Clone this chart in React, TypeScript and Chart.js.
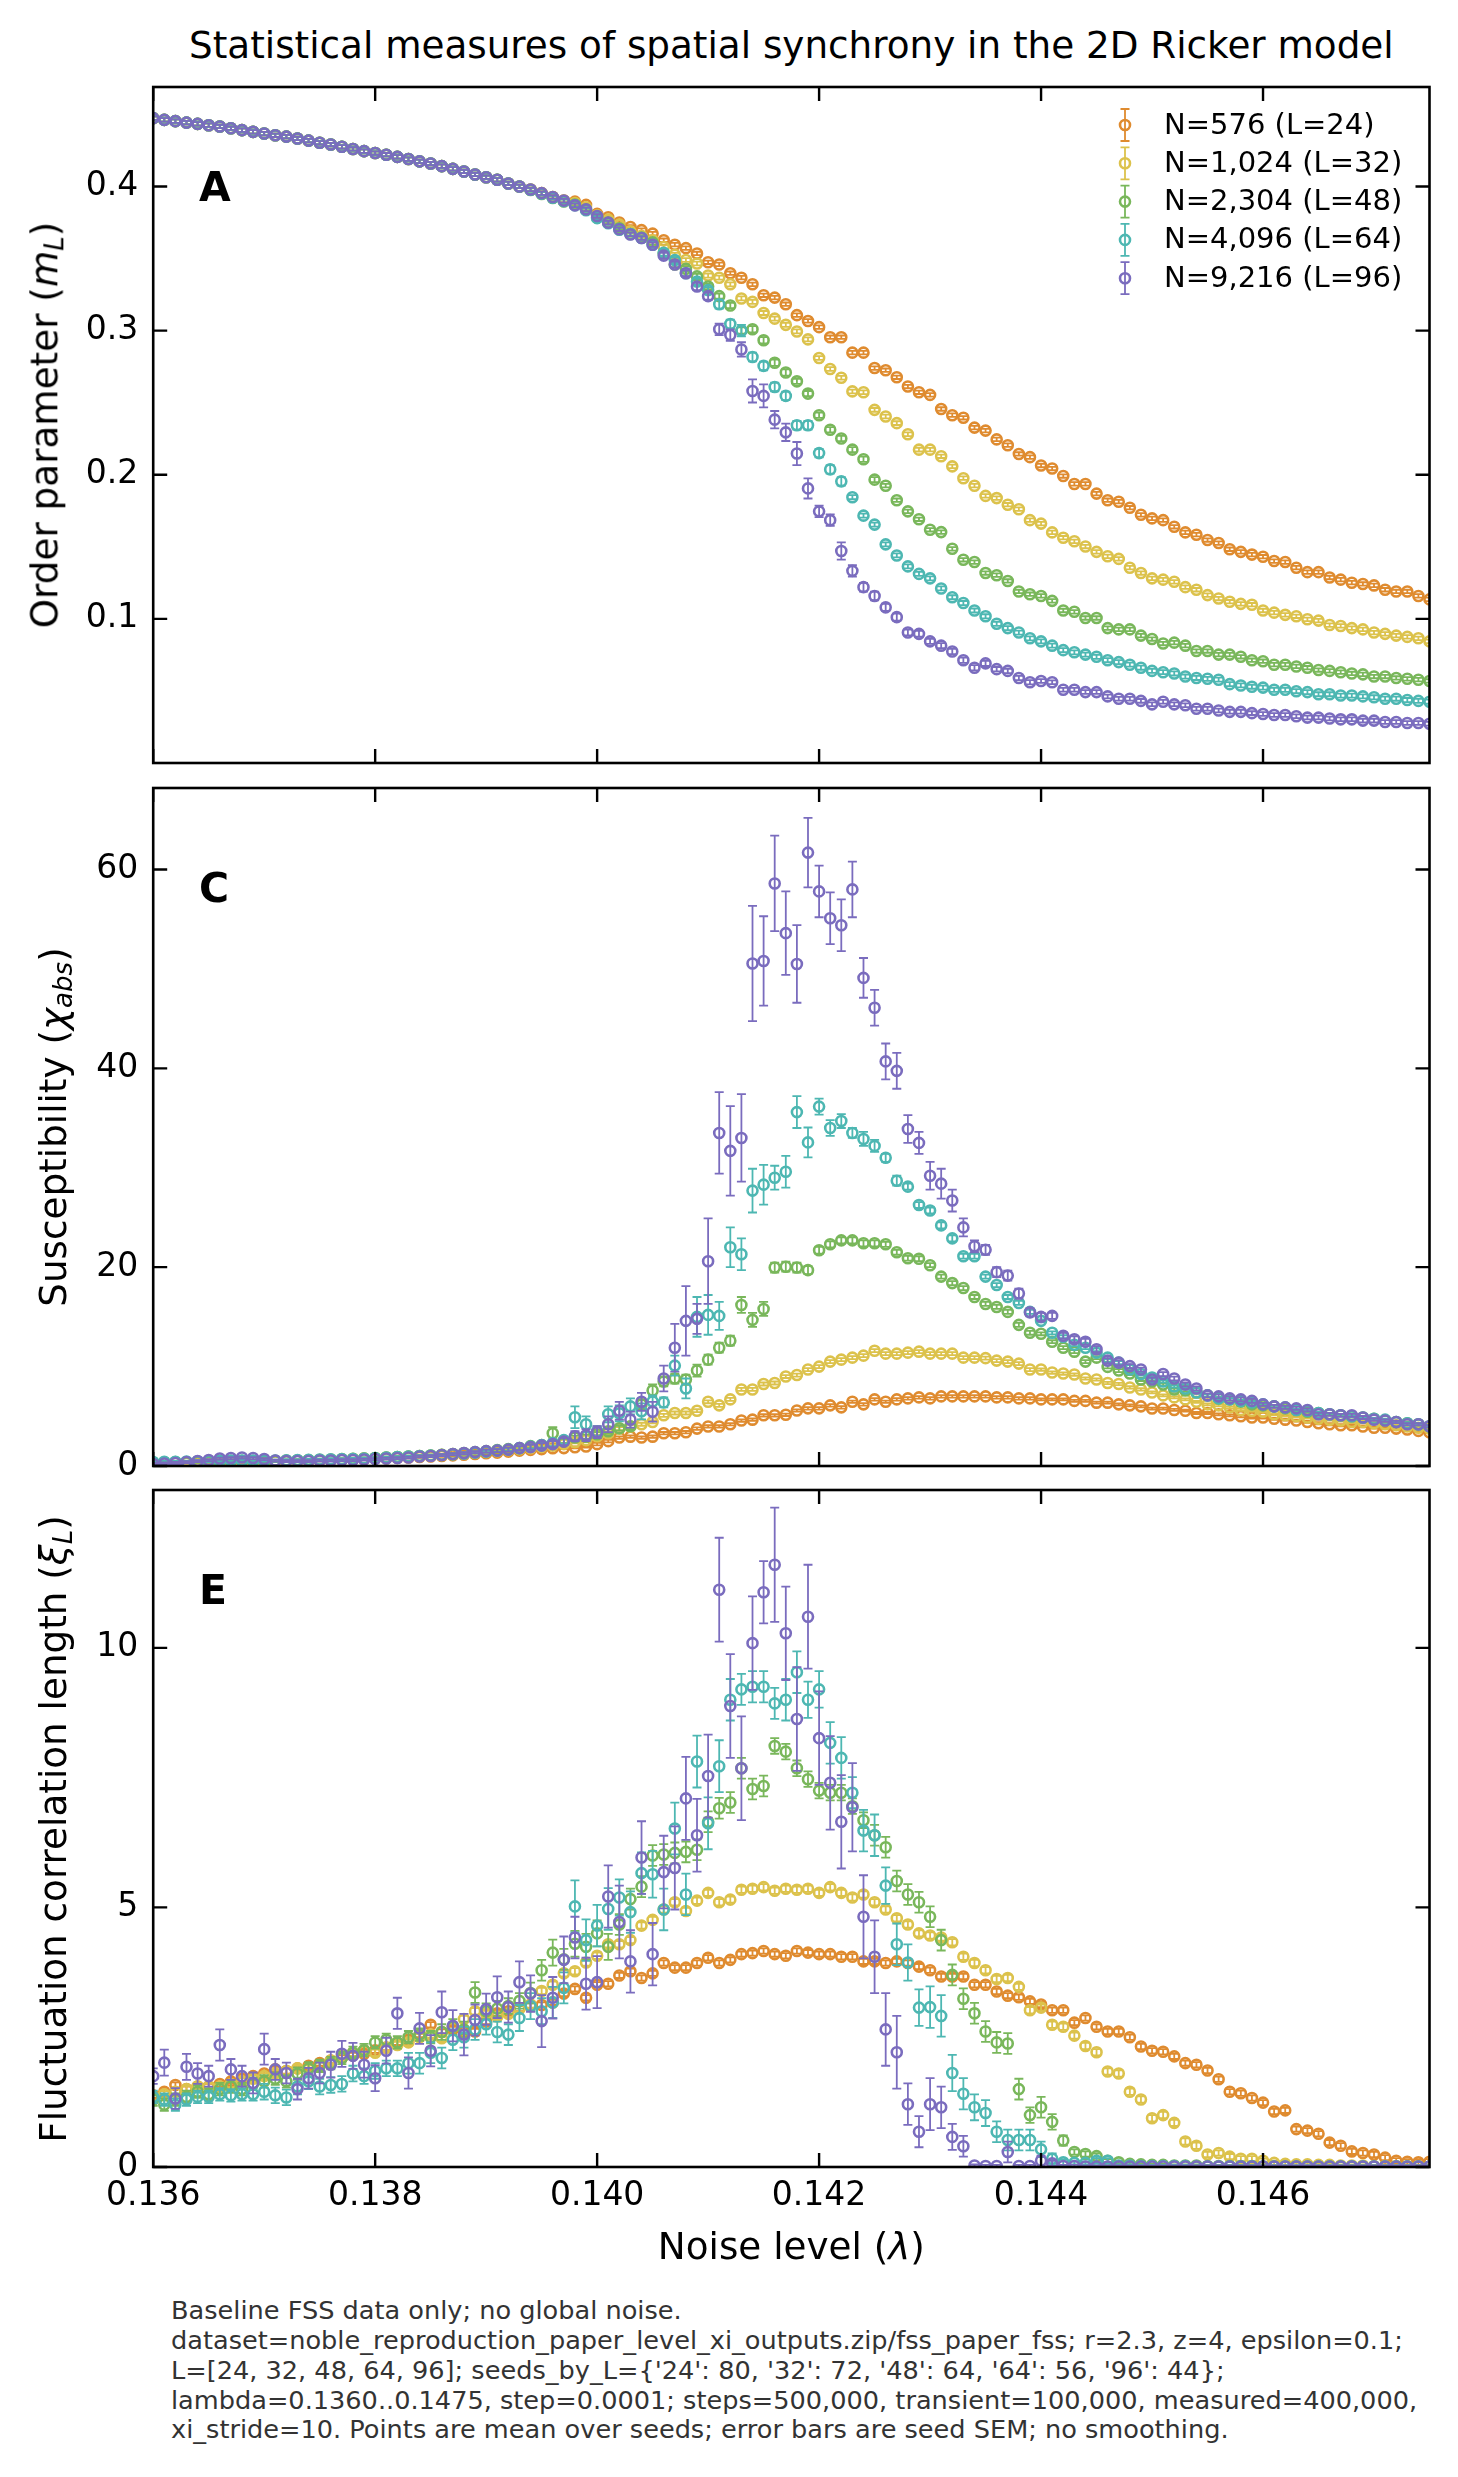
import React, { useEffect, useRef } from 'react';
import { Chart, registerables } from 'chart.js';

Chart.register(...registerables);

// ---------------- data ----------------
const LAMBDA = [
  0.1360, 0.1361, 0.1362, 0.1363, 0.1364, 0.1365, 0.1366, 0.1367, 0.1368, 0.1369,
  0.1370, 0.1371, 0.1372, 0.1373, 0.1374, 0.1375, 0.1376, 0.1377, 0.1378, 0.1379,
  0.1380, 0.1381, 0.1382, 0.1383, 0.1384, 0.1385, 0.1386, 0.1387, 0.1388, 0.1389,
  0.1390, 0.1391, 0.1392, 0.1393, 0.1394, 0.1395, 0.1396, 0.1397, 0.1398, 0.1399,
  0.1400, 0.1401, 0.1402, 0.1403, 0.1404, 0.1405, 0.1406, 0.1407, 0.1408, 0.1409,
  0.1410, 0.1411, 0.1412, 0.1413, 0.1414, 0.1415, 0.1416, 0.1417, 0.1418, 0.1419,
  0.1420, 0.1421, 0.1422, 0.1423, 0.1424, 0.1425, 0.1426, 0.1427, 0.1428, 0.1429,
  0.1430, 0.1431, 0.1432, 0.1433, 0.1434, 0.1435, 0.1436, 0.1437, 0.1438, 0.1439,
  0.1440, 0.1441, 0.1442, 0.1443, 0.1444, 0.1445, 0.1446, 0.1447, 0.1448, 0.1449,
  0.1450, 0.1451, 0.1452, 0.1453, 0.1454, 0.1455, 0.1456, 0.1457, 0.1458, 0.1459,
  0.1460, 0.1461, 0.1462, 0.1463, 0.1464, 0.1465, 0.1466, 0.1467, 0.1468, 0.1469,
  0.1470, 0.1471, 0.1472, 0.1473, 0.1474, 0.1475,
];

const X_TICKS = [0.136, 0.138, 0.14, 0.142, 0.144, 0.146];
const X_TICK_LABELS = ['0.136', '0.138', '0.140', '0.142', '0.144', '0.146'];
const A_Y_TICKS = [0.1, 0.2, 0.3, 0.4];
const A_Y_LABELS = ['0.1', '0.2', '0.3', '0.4'];
const C_Y_TICKS = [0, 20, 40, 60];
const C_Y_LABELS = ['0', '20', '40', '60'];
const E_Y_TICKS = [0, 5, 10];
const E_Y_LABELS = ['0', '5', '10'];

const SERIES_LABELS = ['N=576 (L=24)', 'N=1,024 (L=32)', 'N=2,304 (L=48)', 'N=4,096 (L=64)', 'N=9,216 (L=96)'];
const COLORS = ['#DF8B2F', '#DCC24C', '#79B75B', '#4DB7B2', '#7A6CBE'];

// Panel A: order parameter m_L
const M_L24 = [
  0.4474, 0.4462, 0.4453, 0.4443, 0.4434, 0.4425, 0.4416, 0.4404, 0.4391, 0.4379,
  0.4367, 0.4355, 0.4346, 0.4333, 0.4318, 0.4303, 0.4291, 0.4275, 0.426, 0.4245,
  0.4232, 0.422, 0.4205, 0.419, 0.4174, 0.4159, 0.4141, 0.4122, 0.4104, 0.4083,
  0.4064, 0.4046, 0.4021, 0.40, 0.3979, 0.3954, 0.3927, 0.3902, 0.3895, 0.3872,
  0.381, 0.3786, 0.375, 0.3719, 0.3697, 0.3673, 0.3627, 0.3596, 0.3572, 0.3535,
  0.3474, 0.3459, 0.3398, 0.3367, 0.3321, 0.3245, 0.3229, 0.3183, 0.3107, 0.3067,
  0.3024, 0.2954, 0.2954, 0.2847, 0.2847, 0.274, 0.2725, 0.2676, 0.2612, 0.2572,
  0.2554, 0.2456, 0.2413, 0.2395, 0.2327, 0.2306, 0.2245, 0.2205, 0.2144, 0.2122,
  0.2064, 0.2043, 0.1991, 0.1936, 0.1936, 0.1869, 0.1823, 0.1813, 0.1771, 0.1722,
  0.1697, 0.1685, 0.1639, 0.16, 0.1584, 0.1547, 0.1526, 0.1483, 0.1465, 0.1446,
  0.1431, 0.1401, 0.1394, 0.1355, 0.1324, 0.1324, 0.1287, 0.1272, 0.1251, 0.1242,
  0.1232, 0.1202, 0.119, 0.119, 0.1159, 0.1135,
];
const M_L32 = [
  0.4474, 0.4462, 0.4453, 0.4443, 0.4434, 0.4425, 0.4416, 0.4404, 0.4391, 0.4379,
  0.4367, 0.4355, 0.4346, 0.4333, 0.4318, 0.4303, 0.4291, 0.4275, 0.426, 0.4245,
  0.4232, 0.422, 0.4205, 0.419, 0.4174, 0.4159, 0.4141, 0.4122, 0.4104, 0.4083,
  0.4064, 0.4046, 0.4021, 0.40, 0.3979, 0.3954, 0.3927, 0.3902, 0.3885, 0.3855,
  0.380, 0.377, 0.3735, 0.3688, 0.3657, 0.3627, 0.358, 0.3526, 0.349, 0.3465,
  0.3382, 0.3367, 0.3321, 0.3223, 0.3199, 0.3122, 0.3083, 0.304, 0.2994, 0.2939,
  0.281, 0.2734, 0.2673, 0.2578, 0.2572, 0.245, 0.2404, 0.2358, 0.2281, 0.2174,
  0.2174, 0.2128, 0.2058, 0.1976, 0.1924, 0.1853, 0.1838, 0.1792, 0.1761, 0.1685,
  0.1661, 0.16, 0.1563, 0.1538, 0.1502, 0.1465, 0.1434, 0.1416, 0.1355, 0.1318,
  0.1281, 0.1272, 0.1257, 0.122, 0.1202, 0.1165, 0.1141, 0.1119, 0.1104, 0.1098,
  0.1058, 0.1043, 0.1028, 0.1018, 0.0997, 0.0988, 0.0957, 0.0951, 0.0936, 0.0927,
  0.0905, 0.0896, 0.0884, 0.0875, 0.0865, 0.0844,
];
const M_L48 = [
  0.4474, 0.4462, 0.4453, 0.4443, 0.4434, 0.4425, 0.4416, 0.4404, 0.4391, 0.4379,
  0.4367, 0.4355, 0.4346, 0.4333, 0.4318, 0.4303, 0.4291, 0.4275, 0.426, 0.4245,
  0.4232, 0.422, 0.4205, 0.419, 0.4174, 0.4159, 0.4141, 0.4122, 0.4104, 0.4083,
  0.4064, 0.4046, 0.4021, 0.40, 0.3975, 0.3948, 0.392, 0.3896, 0.3875, 0.384,
  0.3785, 0.375, 0.371, 0.367, 0.3645, 0.3612, 0.3535, 0.3459, 0.3428, 0.3376,
  0.3306, 0.3239, 0.3174, 0.30, 0.3009, 0.2933, 0.2777, 0.2709, 0.2648, 0.2563,
  0.2413, 0.2312, 0.2251, 0.2174, 0.2107, 0.1966, 0.1924, 0.1823, 0.1746, 0.1691,
  0.1618, 0.1602, 0.1486, 0.141, 0.1394, 0.1318, 0.1303, 0.1263, 0.119, 0.1171,
  0.1159, 0.1125, 0.1058, 0.1049, 0.1006, 0.1006, 0.0936, 0.0927, 0.0927, 0.0884,
  0.086, 0.0829, 0.0835, 0.0814, 0.0777, 0.0777, 0.0752, 0.0752, 0.0737, 0.0713,
  0.0706, 0.0682, 0.0682, 0.067, 0.0661, 0.0645, 0.0639, 0.063, 0.0621, 0.0615,
  0.06, 0.06, 0.059, 0.0584, 0.0578, 0.0569,
];
const M_L64 = [
  0.4474, 0.4462, 0.4453, 0.4443, 0.4434, 0.4425, 0.4416, 0.4404, 0.4391, 0.4379,
  0.4367, 0.4355, 0.4346, 0.4333, 0.4318, 0.4303, 0.4291, 0.4275, 0.426, 0.4245,
  0.4232, 0.422, 0.4205, 0.419, 0.4174, 0.4159, 0.4141, 0.4122, 0.4104, 0.4083,
  0.4064, 0.4046, 0.4021, 0.40, 0.3977, 0.395, 0.3922, 0.3898, 0.387, 0.3835,
  0.378, 0.3745, 0.370, 0.367, 0.3642, 0.3596, 0.354, 0.3489, 0.3398, 0.334,
  0.3281, 0.3183, 0.3046, 0.30, 0.2817, 0.2755, 0.2609, 0.2547, 0.2343, 0.2343,
  0.215, 0.2037, 0.1954, 0.1844, 0.1716, 0.1654, 0.1517, 0.144, 0.1364, 0.1312,
  0.1281, 0.1211, 0.115, 0.111, 0.1058, 0.1018, 0.0966, 0.0936, 0.0905, 0.0865,
  0.0844, 0.0814, 0.0783, 0.0768, 0.0752, 0.0737, 0.0713, 0.07, 0.0682, 0.0661,
  0.0639, 0.063, 0.0621, 0.06, 0.059, 0.0584, 0.0578, 0.0547, 0.0538, 0.0529,
  0.0523, 0.0508, 0.0508, 0.0498, 0.0492, 0.0477, 0.0477, 0.0468, 0.0468, 0.0462,
  0.0456, 0.0446, 0.0446, 0.0437, 0.0431, 0.0425,
];
const M_L96 = [
  0.4474, 0.4462, 0.4453, 0.4443, 0.4434, 0.4425, 0.4416, 0.4404, 0.4391, 0.4379,
  0.4367, 0.4355, 0.4346, 0.4333, 0.4318, 0.4303, 0.4291, 0.4275, 0.426, 0.4245,
  0.4232, 0.422, 0.4205, 0.419, 0.4174, 0.4159, 0.4141, 0.4122, 0.4104, 0.4083,
  0.4064, 0.4046, 0.4021, 0.40, 0.3979, 0.3954, 0.3927, 0.3902, 0.3869, 0.3841,
  0.3795, 0.3749, 0.3703, 0.3667, 0.3642, 0.3596, 0.352, 0.3459, 0.3398, 0.3306,
  0.3239, 0.3009, 0.2969, 0.2869, 0.2581, 0.2547, 0.2382, 0.2294, 0.2147, 0.1905,
  0.1746, 0.1685, 0.1471, 0.1333, 0.122, 0.1159, 0.108, 0.1012, 0.0905, 0.0896,
  0.0844, 0.0814, 0.0774, 0.0713, 0.0661, 0.0691, 0.0651, 0.0639, 0.059, 0.056,
  0.0569, 0.056, 0.0508, 0.0508, 0.0492, 0.0492, 0.0462, 0.0446, 0.0446, 0.0431,
  0.0407, 0.0425, 0.0407, 0.0401, 0.0376, 0.0376, 0.0364, 0.0355, 0.0355, 0.0346,
  0.034, 0.0333, 0.0333, 0.0324, 0.0315, 0.0315, 0.0309, 0.0303, 0.0303, 0.0294,
  0.0294, 0.0284, 0.0284, 0.0278, 0.0278, 0.0272,
];

const M_ERR_L24 = [
  0.0012, 0.0012, 0.0012, 0.0012, 0.0012, 0.0012, 0.0012, 0.0012, 0.0012, 0.0012,
  0.0012, 0.0012, 0.0012, 0.0012, 0.0012, 0.0012, 0.0012, 0.0012, 0.0012, 0.0012,
  0.0012, 0.0012, 0.0012, 0.0012, 0.0012, 0.0012, 0.0012, 0.0012, 0.0012, 0.0012,
  0.0012, 0.0012, 0.0012, 0.0012, 0.0012, 0.0012, 0.0012, 0.0012, 0.0012, 0.0012,
  0.0012, 0.0012, 0.0012, 0.0012, 0.0012, 0.0012, 0.0012, 0.0012, 0.0012, 0.0012,
  0.0012, 0.0012, 0.0012, 0.0012, 0.0012, 0.0012, 0.0012, 0.0012, 0.0012, 0.0012,
  0.0012, 0.0012, 0.0012, 0.0012, 0.0012, 0.0012, 0.0012, 0.0012, 0.0012, 0.0012,
  0.0012, 0.0012, 0.0012, 0.0012, 0.0012, 0.0012, 0.0012, 0.0012, 0.0012, 0.0012,
  0.0012, 0.0012, 0.0012, 0.0012, 0.0012, 0.0012, 0.0012, 0.0012, 0.0012, 0.0012,
  0.0012, 0.0012, 0.0012, 0.0012, 0.0012, 0.0012, 0.0012, 0.0012, 0.0012, 0.0012,
  0.0012, 0.0012, 0.0012, 0.0012, 0.0012, 0.0012, 0.0012, 0.0012, 0.0012, 0.0012,
  0.0012, 0.0012, 0.0012, 0.0012, 0.0012, 0.0012,
];
const M_ERR_L32 = [
  0.0012, 0.0012, 0.0012, 0.0012, 0.0012, 0.0012, 0.0012, 0.0012, 0.0012, 0.0012,
  0.0012, 0.0012, 0.0012, 0.0012, 0.0012, 0.0012, 0.0012, 0.0012, 0.0012, 0.0012,
  0.0012, 0.0012, 0.0012, 0.0012, 0.0012, 0.0012, 0.0012, 0.0012, 0.0012, 0.0012,
  0.0012, 0.0012, 0.0012, 0.0012, 0.0012, 0.0012, 0.0012, 0.0012, 0.0012, 0.0012,
  0.0012, 0.0012, 0.0012, 0.0012, 0.0012, 0.0013, 0.0013, 0.0013, 0.0013, 0.0013,
  0.0014, 0.0014, 0.0014, 0.0014, 0.0014, 0.0014, 0.0014, 0.0014, 0.0014, 0.0014,
  0.0013, 0.0013, 0.0013, 0.0013, 0.0013, 0.0013, 0.0013, 0.0013, 0.0013, 0.0013,
  0.0012, 0.0012, 0.0012, 0.0012, 0.0012, 0.0012, 0.0012, 0.0012, 0.0012, 0.0012,
  0.0012, 0.0012, 0.0012, 0.0012, 0.0012, 0.0012, 0.0012, 0.0012, 0.0012, 0.0012,
  0.0012, 0.0012, 0.0012, 0.0012, 0.0012, 0.0012, 0.0012, 0.0012, 0.0012, 0.0012,
  0.0012, 0.0012, 0.0012, 0.0012, 0.0012, 0.0012, 0.0012, 0.0012, 0.0012, 0.0012,
  0.0012, 0.0012, 0.0012, 0.0012, 0.0012, 0.0012,
];
const M_ERR_L48 = [
  0.0012, 0.0012, 0.0012, 0.0012, 0.0012, 0.0012, 0.0012, 0.0012, 0.0012, 0.0012,
  0.0012, 0.0012, 0.0012, 0.0012, 0.0012, 0.0012, 0.0012, 0.0012, 0.0012, 0.0012,
  0.0012, 0.0012, 0.0012, 0.0012, 0.0012, 0.0012, 0.0012, 0.0012, 0.0012, 0.0012,
  0.0012, 0.0012, 0.0012, 0.0012, 0.0012, 0.0012, 0.0012, 0.0012, 0.0012, 0.0012,
  0.0012, 0.0012, 0.0012, 0.0012, 0.0012, 0.0018, 0.0018, 0.0018, 0.0018, 0.0018,
  0.0018, 0.0018, 0.0018, 0.0022, 0.0022, 0.0022, 0.0022, 0.0022, 0.0018, 0.0018,
  0.0018, 0.0018, 0.0018, 0.0018, 0.0018, 0.0018, 0.0012, 0.0012, 0.0012, 0.0012,
  0.0012, 0.0012, 0.0012, 0.0012, 0.0012, 0.0012, 0.0012, 0.0012, 0.0012, 0.0012,
  0.0012, 0.0012, 0.0012, 0.0012, 0.0012, 0.0012, 0.0012, 0.0012, 0.0012, 0.0012,
  0.0012, 0.0012, 0.0012, 0.0012, 0.0012, 0.0012, 0.0012, 0.0012, 0.0012, 0.0012,
  0.0012, 0.0012, 0.0012, 0.0012, 0.0012, 0.0012, 0.0012, 0.0012, 0.0012, 0.0012,
  0.0012, 0.0012, 0.0012, 0.0012, 0.0012, 0.0012,
];
const M_ERR_L64 = [
  0.0012, 0.0012, 0.0012, 0.0012, 0.0012, 0.0012, 0.0012, 0.0012, 0.0012, 0.0012,
  0.0012, 0.0012, 0.0012, 0.0012, 0.0012, 0.0012, 0.0012, 0.0012, 0.0012, 0.0012,
  0.0012, 0.0012, 0.0012, 0.0012, 0.0012, 0.0012, 0.0012, 0.0012, 0.0012, 0.0012,
  0.0012, 0.0012, 0.0012, 0.0012, 0.0012, 0.0012, 0.0012, 0.0012, 0.0012, 0.0012,
  0.0012, 0.0012, 0.0012, 0.0012, 0.0012, 0.002, 0.002, 0.002, 0.002, 0.002,
  0.002, 0.003, 0.003, 0.004, 0.003, 0.003, 0.003, 0.003, 0.003, 0.003,
  0.003, 0.003, 0.003, 0.0014, 0.0014, 0.0014, 0.0014, 0.0014, 0.0014, 0.0014,
  0.0014, 0.0014, 0.0014, 0.0014, 0.0014, 0.0014, 0.0014, 0.0014, 0.0014, 0.0014,
  0.0014, 0.0014, 0.0014, 0.0014, 0.0014, 0.0014, 0.0014, 0.0014, 0.0014, 0.0014,
  0.0014, 0.0014, 0.0014, 0.0014, 0.0014, 0.0014, 0.0014, 0.0014, 0.0014, 0.0014,
  0.0014, 0.0014, 0.0014, 0.0014, 0.0014, 0.0014, 0.0014, 0.0014, 0.0014, 0.0014,
  0.0014, 0.0014, 0.0014, 0.0014, 0.0014, 0.0014,
];
const M_ERR_L96 = [
  0.0012, 0.0012, 0.0012, 0.0012, 0.0012, 0.0012, 0.0012, 0.0012, 0.0012, 0.0012,
  0.0012, 0.0012, 0.0012, 0.0012, 0.0012, 0.0012, 0.0012, 0.0012, 0.0012, 0.0012,
  0.0012, 0.0012, 0.0012, 0.0012, 0.0012, 0.0012, 0.0012, 0.0012, 0.0012, 0.0012,
  0.0012, 0.0012, 0.0012, 0.0012, 0.0012, 0.0012, 0.0012, 0.0012, 0.0012, 0.0012,
  0.0012, 0.0012, 0.0012, 0.0012, 0.0012, 0.0015, 0.002, 0.002, 0.002, 0.0025,
  0.0025, 0.004, 0.004, 0.005, 0.008, 0.008, 0.006, 0.006, 0.008, 0.007,
  0.004, 0.004, 0.006, 0.004, 0.003, 0.003, 0.0025, 0.0025, 0.002, 0.002,
  0.0018, 0.0018, 0.0018, 0.0018, 0.0018, 0.0018, 0.0015, 0.0015, 0.0015, 0.0015,
  0.0013, 0.0013, 0.0013, 0.0013, 0.0013, 0.0013, 0.0013, 0.0013, 0.0013, 0.0013,
  0.0013, 0.0013, 0.0013, 0.0013, 0.0013, 0.0013, 0.0013, 0.0013, 0.0013, 0.0013,
  0.0013, 0.0013, 0.0013, 0.0013, 0.0013, 0.0013, 0.0013, 0.0013, 0.0013, 0.0013,
  0.0013, 0.0013, 0.0013, 0.0013, 0.0013, 0.0013,
];

// Panel C: susceptibility chi_abs
const CHI_L24 = [
  0.30, 0.30, 0.32, 0.33, 0.35, 0.37, 0.38, 0.40, 0.42, 0.44,
  0.46, 0.48, 0.50, 0.53, 0.55, 0.58, 0.61, 0.64, 0.67, 0.70,
  0.74, 0.78, 0.82, 0.86, 0.91, 0.96, 1.01, 1.07, 1.13, 1.20,
  1.28, 1.35, 1.45, 1.55, 1.62, 1.70, 1.78, 1.80, 1.88, 1.96,
  2.2, 2.5, 2.86, 2.95, 2.86, 2.95, 3.3, 3.3, 3.4, 3.76,
  3.98, 3.98, 4.2, 4.57, 4.66, 5.1, 5.1, 5.15, 5.58, 5.8,
  5.8, 6.1, 5.9, 6.46, 6.2, 6.7, 6.46, 6.7, 6.8, 6.9,
  6.8, 7.0, 7.0, 7.0, 7.0, 7.0, 6.9, 6.9, 6.8, 6.8,
  6.7, 6.7, 6.7, 6.55, 6.55, 6.37, 6.37, 6.2, 6.1, 6.0,
  5.78, 5.78, 5.64, 5.56, 5.33, 5.33, 5.2, 5.1, 5.0, 4.88,
  4.88, 4.75, 4.66, 4.57, 4.43, 4.3, 4.2, 4.1, 4.1, 3.98,
  3.85, 3.85, 3.76, 3.67, 3.53, 3.4,
];
const CHI_L32 = [
  0.32, 0.33, 0.35, 0.36, 0.38, 0.40, 0.42, 0.44, 0.46, 0.48,
  0.50, 0.52, 0.55, 0.57, 0.60, 0.63, 0.66, 0.69, 0.73, 0.77,
  0.81, 0.85, 0.90, 0.95, 1.0, 1.06, 1.12, 1.19, 1.26, 1.34,
  1.42, 1.5, 1.6, 1.7, 1.8, 1.92, 2.05, 2.2, 2.4, 2.6,
  3.0, 3.3, 3.76, 3.98, 4.2, 4.43, 5.1, 5.33, 5.33, 5.56,
  6.46, 6.1, 6.7, 7.7, 7.7, 8.25, 8.35, 9.0, 9.15, 9.7,
  10.0, 10.5, 10.7, 10.9, 11.1, 11.6, 11.3, 11.3, 11.4, 11.5,
  11.3, 11.3, 11.3, 10.9, 10.9, 10.85, 10.6, 10.5, 10.3, 9.7,
  9.7, 9.4, 9.3, 9.2, 8.8, 8.7, 8.35, 8.25, 7.9, 7.7,
  7.4, 7.1, 6.9, 6.7, 6.46, 6.2, 6.1, 5.9, 5.64, 5.56,
  5.46, 5.2, 5.1, 5.0, 4.88, 4.75, 4.66, 4.57, 4.43, 4.43,
  4.3, 4.2, 4.1, 3.98, 3.85, 3.76,
];
const CHI_L48 = [
  0.35, 0.38, 0.4, 0.38, 0.42, 0.45, 0.48, 0.5, 0.52, 0.5,
  0.48, 0.5, 0.52, 0.55, 0.58, 0.6, 0.62, 0.65, 0.7, 0.75,
  0.8, 0.85, 0.9, 0.95, 1.0, 1.05, 1.12, 1.2, 1.3, 1.4,
  1.5, 1.6, 1.7, 1.8, 2.0, 2.1, 3.3, 2.5, 2.86, 2.95,
  3.2, 3.5, 3.8, 4.0, 6.2, 7.6, 8.5, 8.8, 8.7, 9.6,
  10.7, 11.9, 12.6, 16.2, 14.7, 15.8, 19.96, 20.05, 19.96, 19.7,
  21.7, 22.3, 22.7, 22.7, 22.4, 22.4, 22.3, 21.5, 20.9, 20.85,
  20.2, 19.05, 18.4, 17.9, 17.0, 16.3, 16.0, 15.5, 14.2, 13.4,
  13.3, 12.5, 11.9, 11.5, 10.5, 10.9, 9.97, 9.6, 9.3, 8.7,
  8.5, 8.2, 7.7, 7.6, 7.4, 7.1, 6.8, 6.7, 6.46, 6.2,
  6.1, 6.0, 5.8, 5.64, 5.46, 5.33, 5.2, 5.1, 5.0, 4.88,
  4.75, 4.57, 4.43, 4.3, 4.2, 4.0,
];
const CHI_L64 = [
  0.4, 0.42, 0.42, 0.45, 0.48, 0.5, 0.52, 0.55, 0.55, 0.55,
  0.55, 0.55, 0.58, 0.6, 0.62, 0.65, 0.68, 0.7, 0.72, 0.76,
  0.8, 0.85, 0.9, 0.95, 1.0, 1.05, 1.1, 1.18, 1.25, 1.35,
  1.45, 1.55, 1.65, 1.8, 1.95, 2.1, 2.3, 2.6, 4.9, 4.2,
  3.5, 5.2, 5.3, 6.0, 5.5, 6.5, 6.4, 10.1, 7.8, 15.0,
  15.2, 15.1, 22.0, 21.3, 27.7, 28.3, 29.0, 29.6, 35.6, 32.55,
  36.15, 34.0, 34.7, 33.5, 32.9, 32.2, 31.0, 28.7, 28.1, 26.25,
  25.7, 24.2, 22.9, 21.1, 21.1, 19.05, 18.2, 17.0, 16.4, 15.5,
  14.6, 13.4, 13.0, 12.2, 11.9, 11.4, 10.9, 10.4, 9.7, 9.25,
  8.9, 8.5, 8.0, 7.8, 7.4, 7.1, 6.8, 6.7, 6.55, 6.4,
  6.2, 6.0, 5.9, 5.64, 5.56, 5.33, 5.2, 5.1, 5.0, 4.88,
  4.75, 4.66, 4.43, 4.3, 4.2, 4.0,
];
const CHI_L96 = [
  0.2, 0.25, 0.3, 0.4, 0.5, 0.6, 0.75, 0.8, 0.85, 0.8,
  0.7, 0.55, 0.5, 0.5, 0.5, 0.55, 0.55, 0.6, 0.6, 0.65,
  0.7, 0.75, 0.8, 0.85, 0.95, 1.0, 1.1, 1.2, 1.3, 1.4,
  1.5, 1.55, 1.65, 1.8, 1.9, 2.05, 2.2, 2.45, 3.0, 3.1,
  3.4, 4.2, 5.56, 4.66, 6.46, 5.46, 8.8, 11.9, 14.6, 14.8,
  20.6, 33.5, 31.7, 33.0, 50.55, 50.8, 58.6, 53.6, 50.5, 61.7,
  57.8, 55.1, 54.4, 58.0, 49.1, 46.1, 40.7, 39.75, 33.9, 32.5,
  29.2, 28.4, 26.7, 24.0, 22.1, 21.75, 19.5, 19.15, 17.35, 15.45,
  15.0, 15.1, 13.1, 12.75, 12.5, 11.75, 10.6, 10.4, 10.05, 9.7,
  8.7, 9.25, 8.8, 8.2, 7.8, 7.1, 7.0, 6.8, 6.7, 6.55,
  6.2, 6.0, 5.9, 5.8, 5.64, 5.2, 5.2, 5.1, 5.1, 4.88,
  4.66, 4.57, 4.43, 4.2, 4.2, 4.0,
];

const CHI_ERR_L24 = [
  0.1, 0.1, 0.1, 0.1, 0.1, 0.1, 0.1, 0.1, 0.1, 0.1,
  0.1, 0.1, 0.1, 0.1, 0.1, 0.1, 0.1, 0.1, 0.1, 0.1,
  0.1, 0.1, 0.1, 0.1, 0.1, 0.1, 0.1, 0.1, 0.1, 0.1,
  0.1, 0.1, 0.1, 0.1, 0.1, 0.1, 0.1, 0.1, 0.1, 0.1,
  0.12, 0.12, 0.12, 0.12, 0.12, 0.12, 0.12, 0.12, 0.12, 0.12,
  0.12, 0.12, 0.12, 0.12, 0.12, 0.12, 0.12, 0.12, 0.12, 0.12,
  0.12, 0.12, 0.12, 0.12, 0.12, 0.12, 0.12, 0.12, 0.12, 0.12,
  0.12, 0.12, 0.12, 0.12, 0.12, 0.12, 0.12, 0.12, 0.12, 0.12,
  0.1, 0.1, 0.1, 0.1, 0.1, 0.1, 0.1, 0.1, 0.1, 0.1,
  0.1, 0.1, 0.1, 0.1, 0.1, 0.1, 0.1, 0.1, 0.1, 0.1,
  0.1, 0.1, 0.1, 0.1, 0.1, 0.1, 0.1, 0.1, 0.1, 0.1,
  0.1, 0.1, 0.1, 0.1, 0.1, 0.1,
];
const CHI_ERR_L32 = [
  0.1, 0.1, 0.1, 0.1, 0.1, 0.1, 0.1, 0.1, 0.1, 0.1,
  0.1, 0.1, 0.1, 0.1, 0.1, 0.1, 0.1, 0.1, 0.1, 0.1,
  0.1, 0.1, 0.1, 0.1, 0.1, 0.1, 0.1, 0.1, 0.1, 0.1,
  0.1, 0.1, 0.1, 0.1, 0.1, 0.1, 0.1, 0.1, 0.12, 0.12,
  0.15, 0.15, 0.15, 0.15, 0.15, 0.15, 0.15, 0.15, 0.15, 0.15,
  0.15, 0.15, 0.15, 0.15, 0.15, 0.15, 0.15, 0.15, 0.15, 0.15,
  0.15, 0.15, 0.15, 0.15, 0.15, 0.15, 0.15, 0.15, 0.15, 0.15,
  0.15, 0.15, 0.15, 0.15, 0.15, 0.15, 0.15, 0.15, 0.15, 0.15,
  0.12, 0.12, 0.12, 0.12, 0.12, 0.12, 0.12, 0.12, 0.12, 0.12,
  0.1, 0.1, 0.1, 0.1, 0.1, 0.1, 0.1, 0.1, 0.1, 0.1,
  0.1, 0.1, 0.1, 0.1, 0.1, 0.1, 0.1, 0.1, 0.1, 0.1,
  0.1, 0.1, 0.1, 0.1, 0.1, 0.1,
];
const CHI_ERR_L48 = [
  0.1, 0.1, 0.1, 0.1, 0.1, 0.1, 0.1, 0.1, 0.1, 0.1,
  0.1, 0.1, 0.1, 0.1, 0.1, 0.1, 0.1, 0.1, 0.1, 0.1,
  0.1, 0.1, 0.1, 0.1, 0.1, 0.1, 0.1, 0.1, 0.1, 0.1,
  0.12, 0.12, 0.15, 0.15, 0.2, 0.25, 0.6, 0.2, 0.2, 0.2,
  0.2, 0.25, 0.25, 0.3, 0.5, 0.6, 0.5, 0.5, 0.5, 0.6,
  0.5, 0.5, 0.5, 0.8, 0.7, 0.7, 0.5, 0.5, 0.5, 0.4,
  0.35, 0.3, 0.3, 0.3, 0.3, 0.3, 0.25, 0.25, 0.25, 0.25,
  0.2, 0.2, 0.2, 0.2, 0.2, 0.2, 0.2, 0.2, 0.2, 0.2,
  0.15, 0.15, 0.15, 0.15, 0.15, 0.15, 0.15, 0.15, 0.15, 0.15,
  0.12, 0.12, 0.12, 0.12, 0.12, 0.12, 0.12, 0.12, 0.12, 0.12,
  0.1, 0.1, 0.1, 0.1, 0.1, 0.1, 0.1, 0.1, 0.1, 0.1,
  0.1, 0.1, 0.1, 0.1, 0.1, 0.1,
];
const CHI_ERR_L64 = [
  0.1, 0.1, 0.1, 0.1, 0.1, 0.1, 0.1, 0.1, 0.1, 0.1,
  0.1, 0.1, 0.1, 0.1, 0.1, 0.1, 0.1, 0.1, 0.1, 0.1,
  0.1, 0.1, 0.1, 0.1, 0.1, 0.1, 0.1, 0.1, 0.1, 0.1,
  0.1, 0.15, 0.15, 0.2, 0.2, 0.25, 0.3, 0.35, 1.1, 0.8,
  0.5, 0.8, 0.8, 0.8, 0.8, 0.6, 0.5, 1.0, 1.0, 2.0,
  2.0, 1.4, 2.0, 1.6, 2.2, 2.0, 1.2, 1.6, 1.6, 1.5,
  0.8, 0.8, 0.7, 0.5, 0.7, 0.6, 0.4, 0.5, 0.3, 0.3,
  0.3, 0.3, 0.3, 0.25, 0.25, 0.2, 0.2, 0.2, 0.2, 0.2,
  0.15, 0.15, 0.15, 0.15, 0.15, 0.15, 0.15, 0.15, 0.15, 0.15,
  0.12, 0.12, 0.12, 0.12, 0.12, 0.12, 0.12, 0.12, 0.12, 0.12,
  0.1, 0.1, 0.1, 0.1, 0.1, 0.1, 0.1, 0.1, 0.1, 0.1,
  0.1, 0.1, 0.1, 0.1, 0.1, 0.1,
];
const CHI_ERR_L96 = [
  0.1, 0.1, 0.1, 0.1, 0.1, 0.1, 0.1, 0.1, 0.1, 0.1,
  0.1, 0.1, 0.1, 0.1, 0.1, 0.1, 0.1, 0.1, 0.1, 0.1,
  0.1, 0.1, 0.1, 0.1, 0.1, 0.1, 0.1, 0.1, 0.1, 0.1,
  0.15, 0.15, 0.2, 0.2, 0.25, 0.25, 0.3, 0.35, 0.5, 0.6,
  0.6, 0.8, 0.9, 0.8, 0.9, 1.0, 1.3, 2.4, 3.5, 1.5,
  4.3, 4.1, 4.5, 4.4, 5.8, 4.5, 4.8, 4.2, 3.9, 3.5,
  2.6, 2.6, 2.6, 2.8, 2.0, 1.8, 1.8, 1.8, 1.4, 1.1,
  1.4, 1.5, 1.1, 0.9, 0.6, 0.5, 0.5, 0.5, 0.5, 0.4,
  0.4, 0.3, 0.3, 0.3, 0.3, 0.3, 0.25, 0.25, 0.2, 0.2,
  0.2, 0.2, 0.2, 0.2, 0.2, 0.2, 0.2, 0.2, 0.2, 0.2,
  0.15, 0.15, 0.15, 0.15, 0.15, 0.15, 0.15, 0.15, 0.15, 0.15,
  0.12, 0.12, 0.12, 0.12, 0.12, 0.12,
];

// Panel E: fluctuation correlation length xi_L
const XI_L24 = [
  1.38, 1.45, 1.58, 1.5, 1.55, 1.55, 1.6, 1.65, 1.7, 1.75,
  1.8, 1.88, 1.85, 1.9, 1.95, 2.0, 2.05, 2.1, 2.15, 2.18,
  2.25, 2.3, 2.4, 2.45, 2.55, 2.74, 2.6, 2.65, 2.6, 2.61,
  2.8, 2.96, 3.0, 3.05, 3.1, 3.12, 3.17, 3.34, 3.43, 3.26,
  3.51, 3.53, 3.69, 3.77, 3.64, 3.73, 3.93, 3.84, 3.84, 3.93,
  4.03, 3.93, 3.99, 4.1, 4.12, 4.16, 4.1, 4.07, 4.16, 4.13,
  4.1, 4.1, 4.05, 4.05, 3.96, 3.96, 3.93, 3.96, 3.93, 3.86,
  3.79, 3.67, 3.67, 3.67, 3.51, 3.51, 3.38, 3.3, 3.27, 3.19,
  3.13, 3.02, 3.02, 2.78, 2.87, 2.7, 2.61, 2.61, 2.5, 2.32,
  2.24, 2.22, 2.13, 2.0, 1.97, 1.86, 1.69, 1.45, 1.42, 1.33,
  1.24, 1.07, 1.09, 0.73, 0.7, 0.64, 0.47, 0.41, 0.3, 0.27,
  0.24, 0.18, 0.12, 0.1, 0.09, 0.1,
];
const XI_L32 = [
  1.35, 1.4, 1.45, 1.5, 1.55, 1.55, 1.55, 1.6, 1.65, 1.7,
  1.75, 1.8, 1.85, 1.9, 1.9, 1.95, 2.05, 2.15, 2.2, 2.25,
  2.2, 2.3, 2.35, 2.4, 2.5, 2.55, 2.48, 2.7, 2.85, 3.0,
  2.95, 2.9, 2.95, 3.05, 3.13, 3.39, 3.51, 3.73, 3.77, 3.94,
  4.07, 4.29, 4.29, 4.37, 4.65, 4.76, 4.96, 5.1, 4.93, 5.13,
  5.28, 5.1, 5.15, 5.34, 5.36, 5.39, 5.32, 5.36, 5.34, 5.36,
  5.28, 5.39, 5.28, 5.19, 5.25, 5.1, 4.96, 4.79, 4.67, 4.5,
  4.46, 4.42, 4.33, 4.05, 3.93, 3.79, 3.62, 3.64, 3.47, 3.02,
  3.07, 2.74, 2.7, 2.53, 2.33, 2.21, 1.84, 1.8, 1.45, 1.3,
  0.94, 1.0, 0.85, 0.49, 0.41, 0.24, 0.27, 0.2, 0.16, 0.16,
  0.12, 0.08, 0.06, 0.05, 0.05, 0.04, 0.04, 0.03, 0.03, 0.03,
  0.02, 0.02, 0.02, 0.02, 0.01, 0.01,
];
const XI_L48 = [
  1.3, 1.2, 1.3, 1.35, 1.45, 1.4, 1.5, 1.55, 1.5, 1.6,
  1.65, 1.7, 1.65, 1.8, 1.9, 1.95, 2.0, 2.1, 2.2, 2.25,
  2.4, 2.45, 2.4, 2.5, 2.55, 2.5, 2.6, 2.7, 2.65, 3.36,
  3.0, 3.05, 3.1, 3.2, 3.35, 3.79, 4.13, 4.0, 4.3, 4.24,
  4.5, 4.24, 4.67, 5.16, 5.4, 6.0, 6.02, 6.05, 6.07, 6.11,
  6.65, 6.91, 7.02, 7.68, 7.28, 7.34, 8.11, 8.0, 7.68, 7.47,
  7.25, 7.21, 7.21, 6.95, 6.68, 6.39, 6.16, 5.51, 5.25, 5.1,
  4.82, 4.37, 3.7, 3.24, 2.96, 2.61, 2.4, 2.38, 1.5, 1.0,
  1.15, 0.87, 0.51, 0.29, 0.25, 0.21, 0.12, 0.09, 0.06, 0.05,
  0.04, 0.04, 0.03, 0.03, 0.03, 0.02, 0.02, 0.02, 0.02, 0.02,
  0.01, 0.01, 0.01, 0.01, 0.01, 0.01, 0.01, 0.01, 0.01, 0.01,
  0.01, 0.01, 0.01, 0.01, 0.01, 0.01,
];
const XI_L64 = [
  1.35, 1.3, 1.2, 1.3, 1.35, 1.35, 1.4, 1.38, 1.4, 1.4,
  1.45, 1.38, 1.34, 1.55, 1.65, 1.55, 1.58, 1.6, 1.8, 1.75,
  1.85, 1.9, 1.9, 2.0, 2.0, 2.2, 2.1, 2.45, 2.5, 2.65,
  2.75, 2.6, 2.55, 2.87, 3.1, 3.0, 3.17, 3.45, 5.02, 4.37,
  4.65, 4.97, 5.19, 4.91, 5.66, 5.64, 4.96, 6.52, 5.25, 7.81,
  6.62, 7.72, 9.0, 9.2, 9.25, 9.25, 8.93, 9.0, 9.53, 9.0,
  9.2, 8.17, 7.88, 7.21, 6.48, 6.39, 5.42, 4.29, 3.94, 3.07,
  3.08, 2.91, 1.81, 1.41, 1.15, 1.04, 0.68, 0.52, 0.52, 0.52,
  0.34, 0.16, 0.09, 0.08, 0.08, 0.12, 0.12, 0.03, 0.03, 0.02,
  0.02, 0.02, 0.02, 0.02, 0.01, 0.01, 0.01, 0.01, 0.01, 0.01,
  0.01, 0.01, 0.01, 0.01, 0.01, 0.01, 0.01, 0.01, 0.01, 0.01,
  0.01, 0.01, 0.01, 0.01, 0.01, 0.01,
];
const XI_L96 = [
  1.75, 2.01, 1.32, 1.93, 1.8, 1.75, 2.35, 1.88, 1.75, 1.62,
  2.27, 1.88, 1.81, 1.5, 1.71, 1.81, 1.97, 2.18, 2.14, 1.97,
  1.71, 2.24, 2.96, 1.81, 2.67, 2.24, 2.98, 2.72, 2.55, 2.83,
  3.04, 3.27, 3.08, 3.56, 3.34, 2.81, 3.26, 3.99, 4.42, 3.53,
  3.56, 5.21, 4.72, 3.96, 5.96, 4.1, 5.68, 5.76, 7.1, 6.39,
  7.53, 11.12, 8.88, 7.68, 10.09, 11.07, 11.6, 10.28, 8.63, 10.6,
  8.26, 7.4, 6.65, 6.93, 4.82, 4.05, 2.65, 2.21, 1.21, 0.68,
  1.21, 1.15, 0.58, 0.4, 0.03, 0.02, 0.02, 0.29, 0.02, 0.02,
  0.12, 0.07, 0.02, 0.02, 0.01, 0.01, 0.01, 0.01, 0.01, 0.01,
  0.01, 0.01, 0.01, 0.01, 0.01, 0.01, 0.01, 0.01, 0.01, 0.01,
  0.01, 0.01, 0.01, 0.01, 0.01, 0.01, 0.01, 0.01, 0.01, 0.01,
  0.01, 0.01, 0.01, 0.01, 0.01, 0.01,
];

const XI_ERR_L24 = [
  0.05, 0.05, 0.05, 0.05, 0.05, 0.05, 0.05, 0.05, 0.05, 0.05,
  0.05, 0.05, 0.05, 0.05, 0.05, 0.05, 0.05, 0.05, 0.05, 0.05,
  0.05, 0.05, 0.05, 0.05, 0.05, 0.05, 0.05, 0.05, 0.05, 0.05,
  0.05, 0.05, 0.05, 0.05, 0.05, 0.05, 0.05, 0.05, 0.05, 0.05,
  0.05, 0.05, 0.05, 0.05, 0.05, 0.05, 0.05, 0.05, 0.05, 0.05,
  0.05, 0.05, 0.05, 0.05, 0.05, 0.05, 0.05, 0.05, 0.05, 0.05,
  0.05, 0.05, 0.05, 0.05, 0.05, 0.05, 0.05, 0.05, 0.05, 0.05,
  0.05, 0.05, 0.05, 0.05, 0.05, 0.05, 0.05, 0.05, 0.05, 0.05,
  0.05, 0.05, 0.05, 0.05, 0.05, 0.05, 0.05, 0.05, 0.05, 0.05,
  0.05, 0.05, 0.05, 0.05, 0.05, 0.05, 0.05, 0.05, 0.05, 0.05,
  0.05, 0.05, 0.05, 0.05, 0.05, 0.05, 0.05, 0.05, 0.05, 0.05,
  0.05, 0.05, 0.05, 0.05, 0.05, 0.05,
];
const XI_ERR_L32 = [
  0.06, 0.06, 0.06, 0.06, 0.06, 0.06, 0.06, 0.06, 0.06, 0.06,
  0.06, 0.06, 0.06, 0.06, 0.06, 0.06, 0.06, 0.06, 0.06, 0.06,
  0.06, 0.06, 0.06, 0.06, 0.06, 0.06, 0.06, 0.06, 0.06, 0.06,
  0.06, 0.06, 0.06, 0.06, 0.06, 0.06, 0.06, 0.06, 0.06, 0.06,
  0.06, 0.06, 0.06, 0.06, 0.06, 0.06, 0.06, 0.06, 0.06, 0.06,
  0.06, 0.06, 0.06, 0.06, 0.06, 0.06, 0.06, 0.06, 0.06, 0.06,
  0.06, 0.06, 0.06, 0.06, 0.06, 0.06, 0.06, 0.06, 0.06, 0.06,
  0.06, 0.06, 0.06, 0.06, 0.06, 0.06, 0.06, 0.06, 0.06, 0.06,
  0.06, 0.06, 0.06, 0.06, 0.06, 0.06, 0.06, 0.06, 0.06, 0.06,
  0.06, 0.06, 0.06, 0.06, 0.06, 0.05, 0.05, 0.05, 0.05, 0.05,
  0.04, 0.04, 0.04, 0.03, 0.03, 0.03, 0.03, 0.02, 0.02, 0.02,
  0.02, 0.02, 0.02, 0.02, 0.02, 0.02,
];
const XI_ERR_L48 = [
  0.12, 0.12, 0.12, 0.12, 0.12, 0.12, 0.12, 0.12, 0.12, 0.12,
  0.12, 0.12, 0.12, 0.12, 0.12, 0.12, 0.12, 0.12, 0.12, 0.12,
  0.12, 0.12, 0.12, 0.12, 0.12, 0.12, 0.15, 0.15, 0.15, 0.2,
  0.15, 0.15, 0.15, 0.15, 0.2, 0.2, 0.25, 0.2, 0.25, 0.25,
  0.25, 0.25, 0.2, 0.2, 0.2, 0.2, 0.2, 0.2, 0.2, 0.2,
  0.2, 0.2, 0.2, 0.2, 0.2, 0.2, 0.15, 0.15, 0.15, 0.15,
  0.15, 0.15, 0.15, 0.15, 0.15, 0.2, 0.2, 0.2, 0.2, 0.2,
  0.2, 0.2, 0.2, 0.2, 0.2, 0.2, 0.2, 0.2, 0.2, 0.15,
  0.2, 0.15, 0.1, 0.05, 0.05, 0.05, 0.03, 0.03, 0.02, 0.02,
  0.02, 0.02, 0.02, 0.02, 0.02, 0.02, 0.02, 0.02, 0.02, 0.02,
  0.02, 0.02, 0.02, 0.02, 0.02, 0.02, 0.02, 0.02, 0.02, 0.02,
  0.02, 0.02, 0.02, 0.02, 0.02, 0.02,
];
const XI_ERR_L64 = [
  0.12, 0.12, 0.12, 0.12, 0.12, 0.12, 0.12, 0.12, 0.12, 0.12,
  0.15, 0.15, 0.15, 0.15, 0.15, 0.15, 0.15, 0.15, 0.15, 0.15,
  0.15, 0.15, 0.15, 0.2, 0.2, 0.2, 0.2, 0.2, 0.2, 0.2,
  0.2, 0.2, 0.2, 0.25, 0.25, 0.25, 0.3, 0.3, 0.5, 0.4,
  0.4, 0.4, 0.35, 0.4, 0.4, 0.45, 0.4, 0.5, 0.4, 0.5,
  0.5, 0.5, 0.4, 0.3, 0.3, 0.3, 0.3, 0.4, 0.4, 0.35,
  0.35, 0.4, 0.4, 0.3, 0.4, 0.4, 0.35, 0.4, 0.35, 0.35,
  0.4, 0.4, 0.35, 0.3, 0.25, 0.25, 0.2, 0.2, 0.2, 0.2,
  0.15, 0.1, 0.05, 0.03, 0.03, 0.05, 0.05, 0.02, 0.02, 0.02,
  0.02, 0.02, 0.02, 0.02, 0.02, 0.02, 0.02, 0.02, 0.02, 0.02,
  0.02, 0.02, 0.02, 0.02, 0.02, 0.02, 0.02, 0.02, 0.02, 0.02,
  0.02, 0.02, 0.02, 0.02, 0.02, 0.02,
];
const XI_ERR_L96 = [
  0.15, 0.25, 0.2, 0.25, 0.2, 0.2, 0.3, 0.2, 0.2, 0.2,
  0.3, 0.2, 0.2, 0.2, 0.2, 0.2, 0.25, 0.25, 0.25, 0.25,
  0.25, 0.25, 0.3, 0.3, 0.3, 0.3, 0.4, 0.3, 0.4, 0.3,
  0.3, 0.4, 0.3, 0.4, 0.35, 0.5, 0.4, 0.45, 0.4, 0.5,
  0.5, 0.6, 0.7, 0.6, 0.7, 0.6, 0.7, 0.8, 0.8, 0.7,
  0.8, 1.0, 1.0, 1.0, 0.9, 0.6, 1.1, 0.9, 1.0, 1.0,
  0.9, 0.9, 0.9, 0.85, 0.8, 0.7, 0.7, 0.7, 0.4, 0.3,
  0.5, 0.4, 0.25, 0.2, 0.02, 0.02, 0.02, 0.2, 0.02, 0.02,
  0.1, 0.05, 0.02, 0.02, 0.02, 0.02, 0.02, 0.02, 0.02, 0.02,
  0.02, 0.02, 0.02, 0.02, 0.02, 0.02, 0.02, 0.02, 0.02, 0.02,
  0.02, 0.02, 0.02, 0.02, 0.02, 0.02, 0.02, 0.02, 0.02, 0.02,
  0.02, 0.02, 0.02, 0.02, 0.02, 0.02,
];

const FOOTNOTE_LINES = [
  'Baseline FSS data only; no global noise.',
  'dataset=noble_reproduction_paper_level_xi_outputs.zip/fss_paper_fss; r=2.3, z=4, epsilon=0.1;',
  "L=[24, 32, 48, 64, 96]; seeds_by_L={'24': 80, '32': 72, '48': 64, '64': 56, '96': 44};",
  'lambda=0.1360..0.1475, step=0.0001; steps=500,000, transient=100,000, measured=400,000,',
  'xi_stride=10. Points are mean over seeds; error bars are seed SEM; no smoothing.',
];

// ---------------- layout ----------------
const FIG_W = 1458;
const FIG_H = 2477;
const PLOT_LEFT = 153.2;
const PLOT_RIGHT = 1429.5;
const PAD_T = 40;
const TICK_LEN = 14;
const FONT = "'DejaVu Sans', sans-serif";
const LABEL_FS = 37.3;
const FOOT_FS = 25.6;

type PanelCfg = {
  key: string;
  top: number;
  bottom: number;
  yMin: number;
  yMax: number;
  yTicks: number[];
  yLabels: string[];
  series: number[][][];
  showX: boolean;
  legend: boolean;
};

const PANELS: PanelCfg[] = [
  {
    key: 'A', top: 87, bottom: 763, yMin: 0, yMax: 0.469,
    yTicks: A_Y_TICKS, yLabels: A_Y_LABELS,
    series: [[M_L24, M_ERR_L24], [M_L32, M_ERR_L32], [M_L48, M_ERR_L48], [M_L64, M_ERR_L64], [M_L96, M_ERR_L96]],
    showX: false, legend: true,
  },
  {
    key: 'C', top: 788, bottom: 1466, yMin: 0, yMax: 68.2,
    yTicks: C_Y_TICKS, yLabels: C_Y_LABELS,
    series: [[CHI_L24, CHI_ERR_L24], [CHI_L32, CHI_ERR_L32], [CHI_L48, CHI_ERR_L48], [CHI_L64, CHI_ERR_L64], [CHI_L96, CHI_ERR_L96]],
    showX: false, legend: false,
  },
  {
    key: 'E', top: 1490, bottom: 2167, yMin: 0, yMax: 13.04,
    yTicks: E_Y_TICKS, yLabels: E_Y_LABELS,
    series: [[XI_L24, XI_ERR_L24], [XI_L32, XI_ERR_L32], [XI_L48, XI_ERR_L48], [XI_L64, XI_ERR_L64], [XI_L96, XI_ERR_L96]],
    showX: true, legend: false,
  },
];

function PanelChart({ p }: { p: PanelCfg }) {
  const ref = useRef<HTMLCanvasElement>(null);
  const xH = p.showX ? 70 : 0;
  const padB = p.showX ? 20 : 40;
  const canvasTop = p.top - PAD_T;
  const canvasH = PAD_T + (p.bottom - p.top) + xH + padB;

  useEffect(() => {
    const canvas = ref.current;
    if (!canvas) return;

    const errorBars = {
      id: 'errorBars' + p.key,
      beforeDatasetDraw(chart: any, args: any) {
        const ds: any = chart.data.datasets[args.index];
        const errs: number[] = ds.errors;
        if (!errs) return;
        const { ctx, chartArea } = chart;
        const ys = chart.scales.y;
        ctx.save();
        ctx.beginPath();
        ctx.rect(chartArea.left, chartArea.top, chartArea.right - chartArea.left, chartArea.bottom - chartArea.top);
        ctx.clip();
        ctx.strokeStyle = ds.borderColor;
        ctx.lineWidth = 1.8;
        args.meta.data.forEach((pt: any, i: number) => {
          const v = ds.data[i].y;
          const e = errs[i] || 0;
          const y1 = ys.getPixelForValue(v - e);
          const y2 = ys.getPixelForValue(v + e);
          const x = pt.x;
          ctx.beginPath();
          ctx.moveTo(x, y1); ctx.lineTo(x, y2);
          ctx.moveTo(x - 4.5, y1); ctx.lineTo(x + 4.5, y1);
          ctx.moveTo(x - 4.5, y2); ctx.lineTo(x + 4.5, y2);
          ctx.stroke();
        });
        ctx.restore();
      },
    };

    const frame = {
      id: 'frame' + p.key,
      afterDatasetsDraw(chart: any) {
        const { ctx, chartArea } = chart;
        const { left, right, top, bottom } = chartArea;
        const xs = chart.scales.x;
        const ys = chart.scales.y;
        ctx.save();
        ctx.strokeStyle = '#000';
        ctx.lineWidth = 2.4;
        ctx.beginPath();
        X_TICKS.forEach((v) => {
          const px = xs.getPixelForValue(v);
          ctx.moveTo(px, bottom); ctx.lineTo(px, bottom - TICK_LEN);
          ctx.moveTo(px, top); ctx.lineTo(px, top + TICK_LEN);
        });
        p.yTicks.forEach((v) => {
          const py = ys.getPixelForValue(v);
          ctx.moveTo(left, py); ctx.lineTo(left + TICK_LEN, py);
          ctx.moveTo(right, py); ctx.lineTo(right - TICK_LEN, py);
        });
        ctx.stroke();
        ctx.lineWidth = 2.6;
        ctx.strokeRect(left, top, right - left, bottom - top);

        if (p.legend) {
          const mx = right - 304.5;
          const tx = right - 265.5;
          SERIES_LABELS.forEach((lab, k) => {
            const cy = top + 38 + k * 38.3;
            ctx.strokeStyle = COLORS[k];
            ctx.lineWidth = 1.8;
            ctx.beginPath();
            ctx.moveTo(mx, cy - 16); ctx.lineTo(mx, cy + 16);
            ctx.moveTo(mx - 4.5, cy - 16); ctx.lineTo(mx + 4.5, cy - 16);
            ctx.moveTo(mx - 4.5, cy + 16); ctx.lineTo(mx + 4.5, cy + 16);
            ctx.stroke();
            ctx.lineWidth = 2.6;
            ctx.beginPath();
            ctx.arc(mx, cy, 5, 0, Math.PI * 2);
            ctx.stroke();
            ctx.fillStyle = '#000';
            ctx.font = `29px ${FONT}`;
            ctx.textBaseline = 'middle';
            ctx.textAlign = 'left';
            ctx.fillText(lab, tx, cy + 1);
          });
        }
        ctx.restore();
      },
    };

    const tickFont = { family: FONT, size: 33 };

    const chart = new Chart(canvas, {
      type: 'scatter',
      data: {
        datasets: p.series.map((s, k) => ({
          label: SERIES_LABELS[k],
          data: LAMBDA.map((x, i) => ({ x, y: s[0][i] })),
          errors: s[1],
          borderColor: COLORS[k],
          backgroundColor: 'rgba(0,0,0,0)',
          pointBackgroundColor: 'rgba(0,0,0,0)',
          pointBorderColor: COLORS[k],
          pointRadius: 5,
          pointHoverRadius: 5,
          pointBorderWidth: 2.6,
          showLine: false,
          order: 4 - k,
          clip: 0,
        })) as any,
      },
      options: {
        responsive: false,
        animation: false,
        events: [],
        layout: {
          autoPadding: false,
          padding: { left: 0, right: FIG_W - PLOT_RIGHT, top: PAD_T, bottom: padB },
        },
        plugins: { legend: { display: false }, tooltip: { enabled: false }, title: { display: false } },
        scales: {
          x: {
            type: 'linear',
            min: 0.136,
            max: 0.1475,
            bounds: 'data',
            afterBuildTicks: (s: any) => { s.ticks = X_TICKS.map((v) => ({ value: v })); },
            afterFit: (s: any) => { s.height = xH; },
            ticks: {
              display: p.showX,
              autoSkip: false,
              maxRotation: 0,
              minRotation: 0,
              padding: 10,
              color: '#000',
              font: tickFont,
              callback: (_v: any, i: number) => X_TICK_LABELS[i],
            },
            grid: { display: false, drawTicks: false },
            border: { display: false },
          },
          y: {
            type: 'linear',
            min: p.yMin,
            max: p.yMax,
            bounds: 'data',
            afterBuildTicks: (s: any) => { s.ticks = p.yTicks.map((v) => ({ value: v })); },
            afterFit: (s: any) => { s.width = PLOT_LEFT; },
            ticks: {
              autoSkip: false,
              padding: 15,
              color: '#000',
              font: tickFont,
              callback: (_v: any, i: number) => p.yLabels[i],
            },
            grid: { display: false, drawTicks: false },
            border: { display: false },
          },
        },
      } as any,
      plugins: [errorBars, frame],
    });
    return () => chart.destroy();
  }, []);

  return (
    <canvas
      ref={ref}
      width={FIG_W}
      height={canvasH}
      style={{ position: 'absolute', left: 0, top: canvasTop, width: FIG_W, height: canvasH }}
    />
  );
}

const subStyle: React.CSSProperties = {
  fontSize: '0.7em',
  fontStyle: 'italic',
  verticalAlign: 'baseline',
  position: 'relative',
  top: '0.22em',
};

function YLabel({ cx, cy, children }: { cx: number; cy: number; children: React.ReactNode }) {
  return (
    <div
      style={{
        position: 'absolute',
        left: cx,
        top: cy,
        transform: 'translate(-50%, -50%) rotate(-90deg)',
        fontSize: LABEL_FS,
        lineHeight: `${LABEL_FS}px`,
        whiteSpace: 'nowrap',
      }}
    >
      {children}
    </div>
  );
}

function Letter({ text, top }: { text: string; top: number }) {
  return (
    <div
      style={{
        position: 'absolute',
        left: 199,
        top: top + 115 - 0.846 * 41,
        fontSize: 41,
        lineHeight: '41px',
        fontWeight: 'bold',
      }}
    >
      {text}
    </div>
  );
}

export default function App() {
  const plotCenter = (PLOT_LEFT + PLOT_RIGHT) / 2;
  const footLine = 29.8;
  const footTop = 2320 - ((footLine - 1.164 * FOOT_FS) / 2 + 0.928 * FOOT_FS);
  return (
    <div
      style={{
        position: 'absolute',
        left: 0,
        top: 0,
        width: FIG_W,
        height: FIG_H,
        background: '#fff',
        overflow: 'hidden',
        fontFamily: FONT,
        color: '#000',
      }}
    >
      <div
        style={{
          position: 'absolute',
          left: plotCenter,
          top: 58.3 - 0.846 * LABEL_FS,
          transform: 'translateX(-50%)',
          fontSize: LABEL_FS,
          lineHeight: `${LABEL_FS}px`,
          whiteSpace: 'nowrap',
        }}
      >
        Statistical measures of spatial synchrony in the 2D Ricker model
      </div>

      {PANELS.map((p) => (
        <PanelChart key={p.key} p={p} />
      ))}

      <Letter text="A" top={87} />
      <Letter text="C" top={788} />
      <Letter text="E" top={1490} />

      <YLabel cx={46.5} cy={(87 + 763) / 2}>
        Order parameter (<i>m</i><span style={subStyle}>L</span>)
      </YLabel>
      <YLabel cx={56} cy={(788 + 1466) / 2}>
        Susceptibility (<i>χ</i><span style={subStyle}>abs</span>)
      </YLabel>
      <YLabel cx={56} cy={(1490 + 2167) / 2}>
        Fluctuation correlation length (<i>ξ</i><span style={subStyle}>L</span>)
      </YLabel>

      <div
        style={{
          position: 'absolute',
          left: plotCenter,
          top: 2260 - 0.846 * LABEL_FS,
          transform: 'translateX(-50%)',
          fontSize: LABEL_FS,
          lineHeight: `${LABEL_FS}px`,
          whiteSpace: 'nowrap',
        }}
      >
        Noise level (<i>λ</i>)
      </div>

      <div
        style={{
          position: 'absolute',
          left: 171,
          top: footTop,
          fontSize: FOOT_FS,
          lineHeight: `${footLine}px`,
          color: '#333',
          whiteSpace: 'pre',
        }}
      >
        {FOOTNOTE_LINES.map((l, i) => (
          <div key={i}>{l}</div>
        ))}
      </div>
    </div>
  );
}
